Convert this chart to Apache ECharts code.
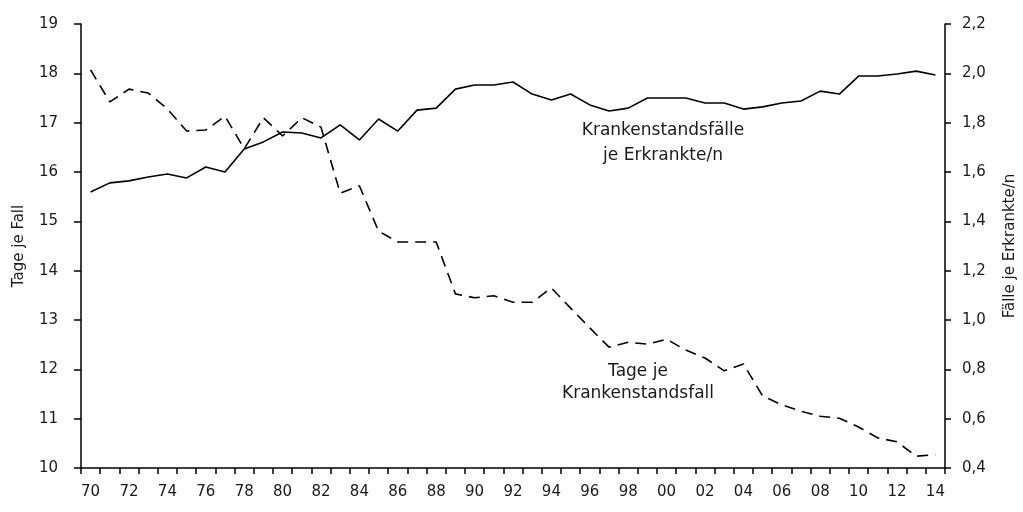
<!DOCTYPE html>
<html>
<head>
<meta charset="utf-8">
<script src="https://cdn.jsdelivr.net/npm/echarts@6/dist/echarts.min.js"></script>
<style>
  html, body { margin: 0; padding: 0; background: #fff; }
  #chart { width: 1023px; height: 512px; }
</style>
</head>
<body>
<div id="chart"></div>
<script>
// Jahre 1970-2014
const years = ['70','71','72','73','74','75','76','77','78','79','80','81','82','83','84','85','86','87','88','89',
  '90','91','92','93','94','95','96','97','98','99','00','01','02','03','04','05','06','07','08','09','10','11','12','13','14']

// Tage je Krankenstandsfall (linke Achse)
const tageJeFall = [18.07, 17.42, 17.68, 17.6, 17.28, 16.83, 16.85, 17.13, 16.47, 17.1,
  16.73, 17.1, 16.91, 15.57, 15.72, 14.8, 14.58, 14.58, 14.58, 13.53,
  13.45, 13.49, 13.36, 13.36, 13.65, 13.24, 12.84, 12.45, 12.55, 12.51,
  12.61, 12.39, 12.23, 11.97, 12.11, 11.46, 11.28, 11.15, 11.05, 11.01,
  10.83, 10.61, 10.53, 10.24, 10.27]

// Krankenstandsfälle je Erkrankte/n (rechte Achse)
const faelleJeErkrankte = [1.519, 1.556, 1.564, 1.58, 1.592, 1.576, 1.62, 1.6, 1.693, 1.722,
  1.762, 1.758, 1.738, 1.791, 1.73, 1.815, 1.766, 1.851, 1.859, 1.936,
  1.953, 1.953, 1.965, 1.916, 1.892, 1.916, 1.872, 1.847, 1.859, 1.9,
  1.9, 1.9, 1.88, 1.88, 1.855, 1.864, 1.88, 1.888, 1.928, 1.916,
  1.989, 1.989, 1.997, 2.009, 1.993]

const fontFamily = '"DejaVu Sans", sans-serif'
const txt = '#1a1a1a'

const chart = echarts.init(document.getElementById('chart'))

const option = {
  animation: false,
  grid: { left: 81, right: 78, top: 24, bottom: 44, containLabel: false, outerBoundsMode: 'none' },
  textStyle: { fontFamily },
  xAxis: {
    type: 'category',
    data: years,
    boundaryGap: true,
    axisLine: { lineStyle: { color: '#000', width: 1.5 } },
    axisTick: { show: true, interval: 0, length: 6, lineStyle: { color: '#000', width: 1.5 } },
    axisLabel: { interval: 1, color: txt, fontSize: 15, margin: 17, fontFamily }
  },
  yAxis: [
    {
      type: 'value',
      min: 10,
      max: 19,
      interval: 1,
      name: 'Tage je Fall',
      nameLocation: 'middle',
      nameGap: 54,
      nameTextStyle: { color: txt, fontSize: 15, fontFamily },
      axisLine: { show: true, lineStyle: { color: '#000', width: 1.5 } },
      axisTick: { show: true, length: 7, lineStyle: { color: '#000', width: 1.5 } },
      axisLabel: { color: txt, fontSize: 15, margin: 23, fontFamily },
      splitLine: { show: false }
    },
    {
      type: 'value',
      min: 0.4,
      max: 2.2,
      interval: 0.2,
      position: 'right',
      name: 'Fälle je Erkrankte/n',
      nameLocation: 'middle',
      nameGap: 58,
      nameRotate: 90,
      nameTextStyle: { color: txt, fontSize: 15, fontFamily },
      axisLine: { show: true, lineStyle: { color: '#000', width: 1.5 } },
      axisTick: { show: true, length: 6, lineStyle: { color: '#000', width: 1.5 } },
      axisLabel: {
        color: txt, fontSize: 15, margin: 17, fontFamily,
        formatter: v => v.toFixed(1).replace('.', ',')
      },
      splitLine: { show: false }
    }
  ],
  series: [
    {
      name: 'Tage je Krankenstandsfall',
      type: 'line',
      yAxisIndex: 0,
      data: tageJeFall,
      symbol: 'none',
      lineStyle: { color: '#000', width: 1.6, type: [11, 7] }
    },
    {
      name: 'Krankenstandsfälle je Erkrankte/n',
      type: 'line',
      yAxisIndex: 1,
      data: faelleJeErkrankte,
      symbol: 'none',
      lineStyle: { color: '#000', width: 1.6 }
    }
  ],
  graphic: [
    {
      type: 'text', x: 663, y: 143,
      style: { text: 'Krankenstandsfälle\nje Erkrankte/n', align: 'center', verticalAlign: 'middle',
        fill: txt, font: '17px ' + fontFamily, lineHeight: 25 }
    },
    {
      type: 'text', x: 638, y: 383,
      style: { text: 'Tage je\nKrankenstandsfall', align: 'center', verticalAlign: 'middle',
        fill: txt, font: '17px ' + fontFamily, lineHeight: 22 }
    }
  ]
}

chart.setOption(option)
window.onresize = () => chart.resize()
</script>
</body>
</html>
